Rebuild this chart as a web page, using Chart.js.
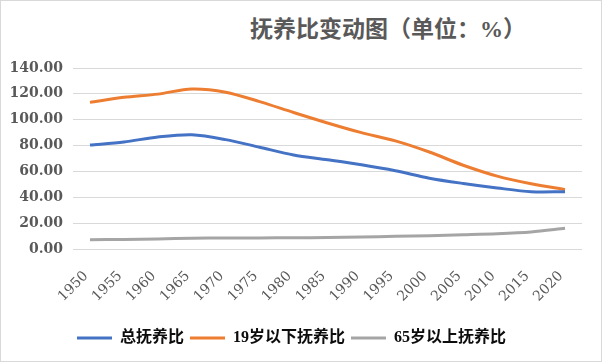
<!DOCTYPE html>
<html>
<head>
<meta charset="utf-8">
<script src="https://cdn.jsdelivr.net/npm/chart.js@4"></script>
<style>
    body { margin: 0; background: #fff; }
    #wrap {
        position: relative;
        width: 602px;
        height: 362px;
        border: 1px solid #d9d9d9;
        box-sizing: border-box;
    }
    #title {
        position: absolute;
        left: 187px;
        width: 400px;
        top: 9px;
        text-align: center;
        font: bold 23px "Liberation Serif", "Noto Sans CJK SC", serif;
        color: #595959;
    }
    canvas { position: absolute; left: 0; top: 0; }
</style>
</head>
<body>
<div id="wrap">
    <div id="title">抚养比变动图（单位：%）</div>
    <canvas id="chart" width="600" height="360"></canvas>
</div>
<script>
const years = ['1950', '1955', '1960', '1965', '1970', '1975', '1980', '1985', '1990', '1995', '2000', '2005', '2010', '2015', '2020'];
const totalRatio = [80.4, 82.8, 86.6, 88.3, 84.6, 78.7, 72.7, 69.0, 65.1, 60.5, 54.8, 50.7, 47.2, 44.3, 44.3];
const youngRatio = [113.4, 117.3, 119.8, 123.8, 121.3, 114.0, 105.6, 97.5, 90.0, 83.6, 75.0, 64.8, 56.4, 50.5, 45.9];
const oldRatio = [7.2, 7.4, 7.8, 8.3, 8.5, 8.6, 8.7, 8.9, 9.2, 9.8, 10.3, 11.0, 11.8, 13.2, 16.0];

document.addEventListener('DOMContentLoaded', () => {
    const ctx = document.getElementById('chart').getContext('2d');

    const line = (label, data, color) => ({
        label: label,
        data: data,
        borderColor: color,
        backgroundColor: color,
        borderWidth: 3,
        pointRadius: 0,
        tension: 0.3
    });

    new Chart(ctx, {
        type: 'line',
        data: {
            labels: years,
            datasets: [
                line('总抚养比', totalRatio, '#4472c4'),
                line('19岁以下抚养比', youngRatio, '#ed7d31'),
                line('65岁以上抚养比', oldRatio, '#a5a5a5')
            ]
        },
        options: {
            responsive: false,
            animation: false,
            layout: { padding: { top: 67, right: 19, bottom: 5, left: 0 } },
            scales: {
                x: {
                    offset: true,
                    grid: { display: false },
                    border: { display: false },
                    ticks: {
                        color: '#595959',
                        font: { family: '"DejaVu Serif", serif', size: 14 },
                        minRotation: 45,
                        maxRotation: 45,
                        padding: 11,
                        labelOffset: -4
                    },
                    afterFit: (scale) => { scale.height = 75; }
                },
                y: {
                    min: 0,
                    max: 140,
                    border: { display: false },
                    grid: { color: '#d9d9d9', drawTicks: false },
                    ticks: {
                        stepSize: 20,
                        color: '#595959',
                        font: { family: '"DejaVu Serif", serif', size: 14, weight: 'bold' },
                        padding: 10,
                        callback: (v) => v.toFixed(2)
                    },
                    afterFit: (scale) => { scale.width = 72; }
                }
            },
            plugins: {
                legend: {
                    position: 'bottom',
                    labels: {
                        usePointStyle: true,
                        pointStyle: 'line',
                        pointStyleWidth: 35,
                        padding: 6,
                        color: '#0d0d0d',
                        font: { family: '"Liberation Serif", "Noto Sans CJK SC", serif', size: 16, weight: 'bold' }
                    }
                },
                tooltip: { enabled: false }
            }
        }
    });
});
</script>
</body>
</html>
